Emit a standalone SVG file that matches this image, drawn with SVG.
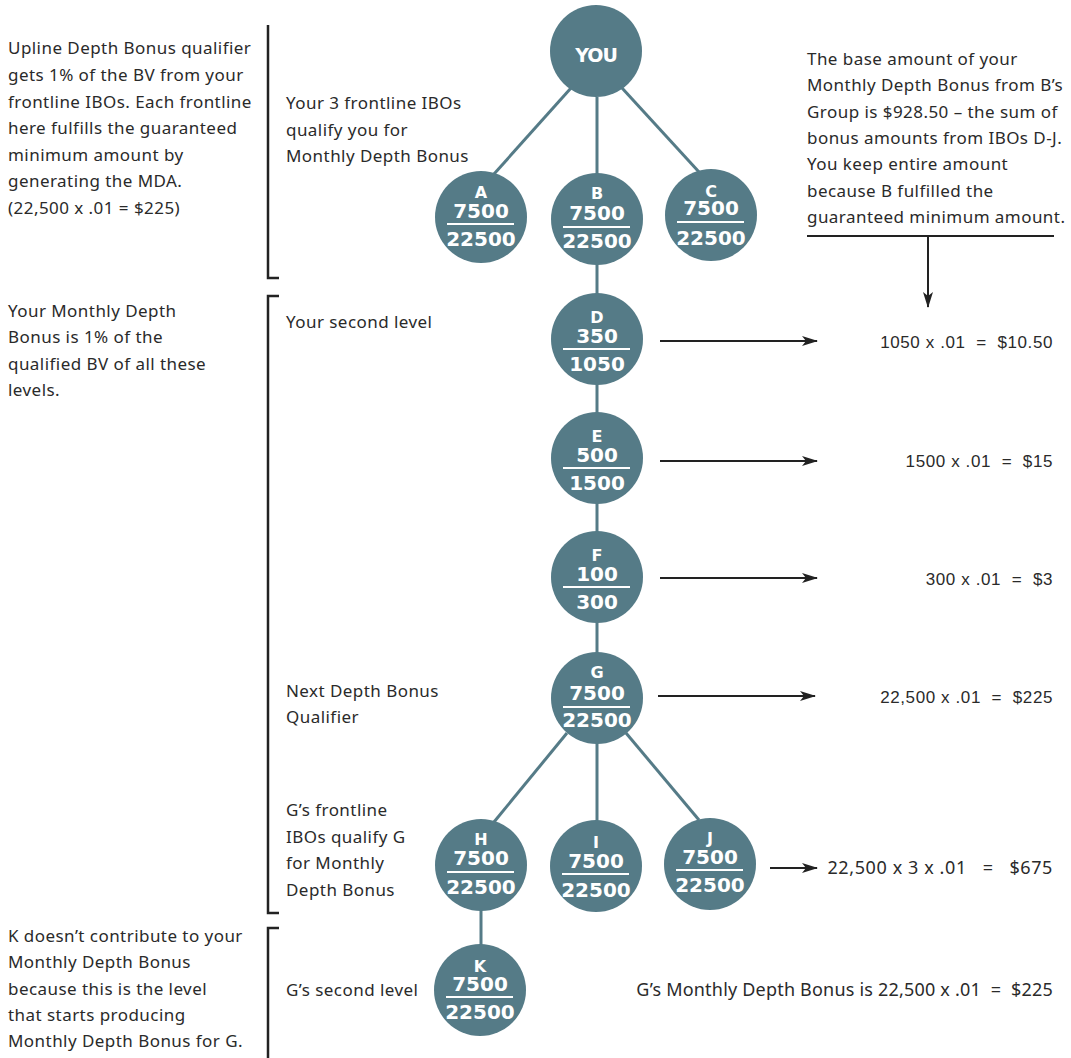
<svg xmlns="http://www.w3.org/2000/svg" width="1071" height="1058" viewBox="0 0 1071 1058">
<defs>
<marker id="ah" markerUnits="userSpaceOnUse" markerWidth="16" markerHeight="12" refX="15" refY="6" orient="auto">
<path d="M0,1 L16,6 L0,11 L4,6 Z" fill="#222"/>
</marker>
<style>
.t{font-family:"Noto Sans","Liberation Sans",sans-serif;font-size:17px;letter-spacing:0.45px;fill:#2a2a2a}
.f{font-family:"Liberation Sans",Arial,sans-serif;font-size:17px;letter-spacing:0.6px;fill:#2a2a2a;text-anchor:end;white-space:pre}
.g{font-family:"Noto Sans","Liberation Sans",sans-serif;font-size:18px;fill:#2a2a2a;text-anchor:end;white-space:pre}
.n circle{fill:#557b87}
.n text{font-family:"DejaVu Sans","Liberation Sans",sans-serif;font-weight:bold;fill:#fff;text-anchor:middle}
.n .l{font-size:16px}
.n .v{font-size:20px}
.n line{stroke:#fff;stroke-width:2}
.c line{stroke:#557b87;stroke-width:3}
.a line,.a path{stroke:#222;stroke-width:2;fill:none}
.b path{stroke:#222;stroke-width:2.5;fill:none}
</style>
</defs>
<rect width="1071" height="1058" fill="#fff"/>

<g id="connectors" class="c">
<line x1="571" y1="88" x2="494" y2="174"/>
<line x1="597" y1="97" x2="597" y2="174"/>
<line x1="622" y1="88" x2="699" y2="172"/>
<line x1="597" y1="262" x2="597" y2="294"/>
<line x1="597" y1="384" x2="597" y2="413"/>
<line x1="597" y1="503" x2="597" y2="532"/>
<line x1="597" y1="622" x2="597" y2="653"/>
<line x1="567" y1="733" x2="494" y2="822"/>
<line x1="597" y1="743" x2="597" y2="821"/>
<line x1="626" y1="733" x2="699" y2="820"/>
<line x1="481" y1="910" x2="481" y2="945"/>
</g>

<g id="arrows" class="a">
<line x1="660" y1="341" x2="817" y2="341" marker-end="url(#ah)"/>
<line x1="660" y1="461" x2="817" y2="461" marker-end="url(#ah)"/>
<line x1="660" y1="578" x2="817" y2="578" marker-end="url(#ah)"/>
<line x1="658" y1="696" x2="815" y2="696" marker-end="url(#ah)"/>
<line x1="770" y1="868" x2="817" y2="868" marker-end="url(#ah)"/>
<line x1="807" y1="236" x2="1054" y2="236"/>
<line x1="928" y1="236" x2="928" y2="307" marker-end="url(#ah)"/>
</g>

<g id="brackets" class="b">
<path d="M268,25 V278 H279"/>
<path d="M279,296 H268 V913 H279"/>
<path d="M279,928 H268 V1058"/>
</g>

<g id="you" class="n"><circle cx="596" cy="51" r="46"/><text x="596" y="62" style="font-size:19px;letter-spacing:-1px">YOU</text></g>
<g id="A" class="n"><circle cx="481" cy="217" r="46"/><text class="l" x="481" y="198">A</text><text class="v" x="481" y="218">7500</text><line x1="447" y1="224" x2="514" y2="224"/><text class="v" x="481" y="246">22500</text></g>
<g id="B" class="n"><circle cx="597" cy="219" r="46"/><text class="l" x="597" y="199">B</text><text class="v" x="597" y="220">7500</text><line x1="563" y1="227" x2="630" y2="227"/><text class="v" x="597" y="248">22500</text></g>
<g id="C" class="n"><circle cx="711" cy="215" r="46"/><text class="l" x="711" y="197">C</text><text class="v" x="711" y="215">7500</text><line x1="677" y1="222" x2="744" y2="222"/><text class="v" x="711" y="245">22500</text></g>
<g id="D" class="n"><circle cx="597" cy="339" r="46"/><text class="l" x="597" y="323">D</text><text class="v" x="597" y="343">350</text><line x1="563" y1="349" x2="630" y2="349"/><text class="v" x="597" y="371">1050</text></g>
<g id="E" class="n"><circle cx="597" cy="458" r="46"/><text class="l" x="597" y="442">E</text><text class="v" x="597" y="462">500</text><line x1="563" y1="468" x2="630" y2="468"/><text class="v" x="597" y="490">1500</text></g>
<g id="F" class="n"><circle cx="597" cy="577" r="46"/><text class="l" x="597" y="561">F</text><text class="v" x="597" y="581">100</text><line x1="563" y1="587" x2="630" y2="587"/><text class="v" x="597" y="609">300</text></g>
<g id="G" class="n"><circle cx="597" cy="698" r="46"/><text class="l" x="597" y="678">G</text><text class="v" x="597" y="700">7500</text><line x1="563" y1="707" x2="630" y2="707"/><text class="v" x="597" y="727">22500</text></g>
<g id="H" class="n"><circle cx="481" cy="865" r="46"/><text class="l" x="481" y="845">H</text><text class="v" x="481" y="865">7500</text><line x1="447" y1="872" x2="514" y2="872"/><text class="v" x="481" y="894">22500</text></g>
<g id="I" class="n"><circle cx="596" cy="866" r="46"/><text class="l" x="596" y="848">I</text><text class="v" x="596" y="868">7500</text><line x1="562" y1="874" x2="629" y2="874"/><text class="v" x="596" y="897">22500</text></g>
<g id="J" class="n"><circle cx="710" cy="864" r="46"/><text class="l" x="710" y="844">J</text><text class="v" x="710" y="864">7500</text><line x1="676" y1="870" x2="743" y2="870"/><text class="v" x="710" y="892">22500</text></g>
<g id="K" class="n"><circle cx="480" cy="990" r="46"/><text class="l" x="480" y="972">K</text><text class="v" x="480" y="991">7500</text><line x1="446" y1="997" x2="513" y2="997"/><text class="v" x="480" y="1019">22500</text></g>

<g id="left-notes" class="t">
<text x="8" y="54">Upline Depth Bonus qualifier</text>
<text x="8" y="81">gets 1% of the BV from your</text>
<text x="8" y="108">frontline IBOs. Each frontline</text>
<text x="8" y="134">here fulfills the guaranteed</text>
<text x="8" y="161">minimum amount by</text>
<text x="8" y="187">generating the MDA.</text>
<text x="8" y="214">(22,500 x .01 = $225)</text>
<text x="8" y="317">Your Monthly Depth</text>
<text x="8" y="343">Bonus is 1% of the</text>
<text x="8" y="370">qualified BV of all these</text>
<text x="8" y="396">levels.</text>
<text x="8" y="942">K doesn’t contribute to your</text>
<text x="8" y="968">Monthly Depth Bonus</text>
<text x="8" y="995">because this is the level</text>
<text x="8" y="1021">that starts producing</text>
<text x="8" y="1047">Monthly Depth Bonus for G.</text>
</g>

<g id="level-labels" class="t">
<text x="286" y="109">Your 3 frontline IBOs</text>
<text x="286" y="136">qualify you for</text>
<text x="286" y="162">Monthly Depth Bonus</text>
<text x="286" y="328">Your second level</text>
<text x="286" y="697">Next Depth Bonus</text>
<text x="286" y="723">Qualifier</text>
<text x="286" y="816">G’s frontline</text>
<text x="286" y="843">IBOs qualify G</text>
<text x="286" y="869">for Monthly</text>
<text x="286" y="896">Depth Bonus</text>
<text x="286" y="996">G’s second level</text>
</g>

<g id="right-note" class="t">
<text x="807" y="65">The base amount of your</text>
<text x="807" y="91">Monthly Depth Bonus from B’s</text>
<text x="807" y="118">Group is $928.50 – the sum of</text>
<text x="807" y="144">bonus amounts from IBOs D-J.</text>
<text x="807" y="170">You keep entire amount</text>
<text x="807" y="197">because B fulfilled the</text>
<text x="807" y="223">guaranteed minimum amount.</text>
</g>

<g id="results">
<text class="f" x="1053" y="348">1050 x .01  =  $10.50</text>
<text class="f" x="1053" y="467">1500 x .01  =  $15</text>
<text class="f" x="1053" y="585">300 x .01  =  $3</text>
<text class="f" x="1053" y="703">22,500 x .01  =  $225</text>
<text class="g" x="1053" y="874" style="letter-spacing:0.6px">22,500 x 3 x .01   =   $675</text>
<text class="g" x="1053" y="996" style="letter-spacing:0.2px">G’s Monthly Depth Bonus is 22,500 x .01  =  $225</text>
</g>
</svg>
